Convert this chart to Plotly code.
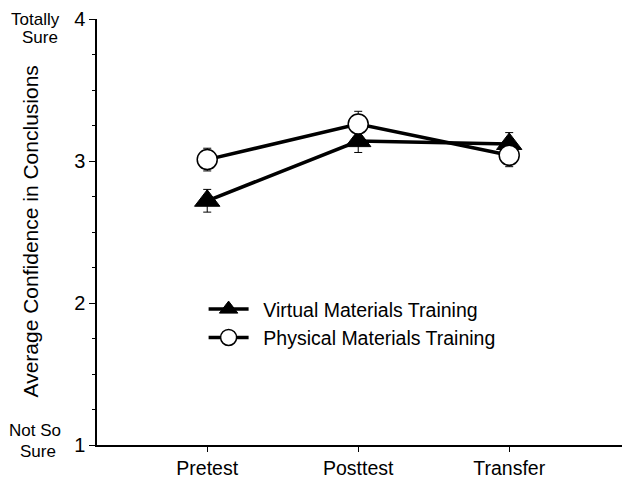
import plotly.graph_objects as go

categories = ["Pretest", "Posttest", "Transfer"]
virtual_vals = [2.72, 3.14, 3.12]
virtual_err = [0.08, 0.08, 0.08]
physical_vals = [3.01, 3.26, 3.04]
physical_err = [0.08, 0.09, 0.08]
y_ticks = [1, 2, 3, 4]
series_names = ["Virtual Materials Training", "Physical Materials Training"]

FONT = "Liberation Sans, Arial, sans-serif"

fig = go.Figure()
fig.add_trace(go.Scatter(
    x=categories, y=virtual_vals, name="\u2002" + series_names[0],
    mode="lines+markers",
    line=dict(color="black", width=3.5),
    marker=dict(symbol="triangle-up", size=22, color="black",
                line=dict(color="black", width=1)),
    error_y=dict(type="data", array=virtual_err, color="black",
                 thickness=1, width=4),
))
fig.add_trace(go.Scatter(
    x=categories, y=physical_vals, name="\u2002" + series_names[1],
    mode="lines+markers",
    line=dict(color="black", width=3.5),
    marker=dict(symbol="circle", size=20, color="white",
                line=dict(color="black", width=1.5)),
    error_y=dict(type="data", array=physical_err, color="black",
                 thickness=1, width=4),
))

def side_label(text, x, y):
    return dict(text=text, xref="paper", yref="paper", x=x, y=y,
                showarrow=False, font=dict(size=17),
                xanchor="center", yanchor="middle")

fig.update_layout(
    width=622, height=472,
    margin=dict(l=89, r=0, t=8, b=35),
    paper_bgcolor="white", plot_bgcolor="white",
    font=dict(family=FONT, size=19, color="black"),
    showlegend=True,
    legend=dict(x=0.2, y=0.364, xanchor="left", yanchor="top",
                bgcolor="rgba(0,0,0,0)", font=dict(size=19.5),
                itemwidth=40, tracegroupgap=0),
    annotations=[
        dict(text="Average Confidence in Conclusions", textangle=-90,
             xref="paper", yref="paper", x=-0.124, y=0.501,
             showarrow=False, font=dict(size=21),
             xanchor="center", yanchor="middle"),
        side_label("Totally", -0.1163, 0.998),
        side_label("Sure", -0.107, 0.956),
        side_label("Not So", -0.1165, 0.033),
        side_label("Sure", -0.1105, -0.016),
    ],
)
fig.update_xaxes(
    type="category", range=[-0.73, 2.8],
    showline=True, linecolor="black", linewidth=1.5,
    ticks="outside", ticklen=5, tickcolor="black",
    showgrid=False, zeroline=False,
    tickfont=dict(size=19.5),
)
fig.update_yaxes(
    range=[1, 4], tickvals=y_ticks, ticktext=[str(v) for v in y_ticks],
    showline=True, linecolor="black", linewidth=1.5,
    ticks="outside", ticklen=6, tickcolor="black",
    showgrid=False, zeroline=False,
    tickfont=dict(size=20), ticklabeloverflow="allow",
    minor=dict(dtick=0.25, ticks="outside", ticklen=3, tickcolor="black",
               showgrid=False),
)

fig.write_html("out.html")
